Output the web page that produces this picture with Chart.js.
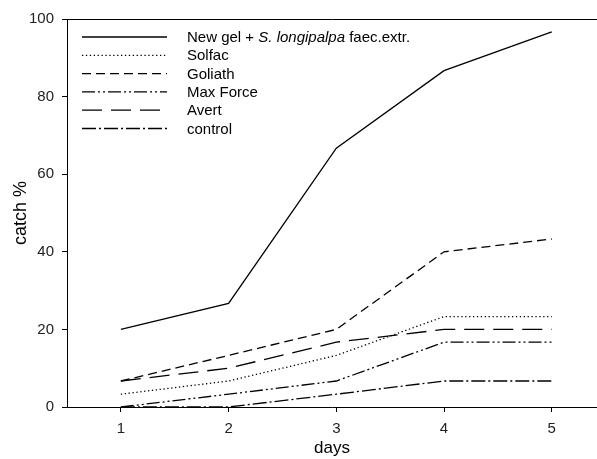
<!DOCTYPE html>
<html>
<head>
<meta charset="utf-8">
<script src="https://cdn.jsdelivr.net/npm/chart.js@4/dist/chart.umd.min.js"></script>
<style>
  html, body { margin: 0; padding: 0; background: #fff; }
  #wrap { width: 597px; height: 459px; position: relative; }
</style>
</head>
<body>
<div id="wrap"><canvas id="c" width="597" height="459"></canvas></div>
<script>
const days = [1, 2, 3, 4, 5];
const newGel = [20, 26.7, 66.7, 86.7, 96.7];
const solfac = [3.3, 6.7, 13.3, 23.3, 23.3];
const goliath = [6.7, 13.3, 20, 40, 43.3];
const maxForce = [0, 3.3, 6.7, 16.7, 16.7];
const avert = [6.7, 10, 16.7, 20, 20];
const control = [0, 0, 3.3, 6.7, 6.7];
const yTicks = [0, 20, 40, 60, 80, 100];
const seriesLabels = ["New gel + S. longipalpa faec.extr.", "Solfac", "Goliath", "Max Force", "Avert", "control"];
// rich legend segments for labels (italic parts)
const legendSegments = [
  [["New gel + ", false], ["S. longipalpa", true], [" faec.extr.", false]],
  [["Solfac", false]], [["Goliath", false]], [["Max Force", false]], [["Avert", false]], [["control", false]]
];
const dashes = [[], [1.3, 2.6], [9, 5], [13, 3, 2, 3, 2, 3], [20, 9], [14, 3, 2, 3]];
const seriesValues = [newGel, solfac, goliath, maxForce, avert, control];

const FONT = "Arial, 'Liberation Sans', sans-serif";

const datasets = seriesValues.map((vals, i) => ({
  label: seriesLabels[i],
  data: days.map((d, j) => ({ x: d, y: vals[j] })),
  borderColor: '#000',
  borderWidth: 1.3,
  borderDash: dashes[i],
  pointRadius: 0,
  fill: false,
  tension: 0
}));

const legendPlugin = {
  id: 'customLegend',
  afterDraw(chart) {
    const ctx = chart.ctx;
    const x0 = 82, x1 = 167, tx = 187;
    const yStart = 37, dy = 18.3;
    ctx.save();
    chart.data.datasets.forEach((ds, i) => {
      const y = yStart + i * dy;
      ctx.beginPath();
      ctx.setLineDash(ds.borderDash || []);
      ctx.lineWidth = ds.borderWidth;
      ctx.strokeStyle = ds.borderColor;
      ctx.moveTo(x0, y);
      ctx.lineTo(x1, y);
      ctx.stroke();
      ctx.setLineDash([]);
      ctx.fillStyle = '#000';
      ctx.textBaseline = 'middle';
      ctx.textAlign = 'left';
      let x = tx;
      legendSegments[i].forEach(([txt, it]) => {
        ctx.font = (it ? 'italic ' : '') + '15px ' + FONT;
        ctx.fillText(txt, x, y + 1);
        x += ctx.measureText(txt).width;
      });
    });
    ctx.restore();
  }
};

new Chart(document.getElementById('c'), {
  type: 'line',
  data: { datasets },
  options: {
    responsive: false,
    animation: false,
    devicePixelRatio: 1,
    layout: { padding: { top: 19, right: 0, left: 0, bottom: 0 } },
    plugins: { legend: { display: false }, tooltip: { enabled: false } },
    scales: {
      x: {
        type: 'linear',
        min: 0.5,
        max: 5.42,
        afterBuildTicks(s) { s.ticks = days.map(v => ({ value: v })); },
        afterFit(s) { s.height = 52; },
        border: { display: true, color: '#000', width: 1 },
        grid: { drawOnChartArea: false, color: '#000', tickLength: 5, tickWidth: 1 },
        ticks: { color: '#222', font: { family: FONT, size: 15 }, padding: 8, maxRotation: 0 },
        title: { display: true, text: 'days', color: '#000', font: { family: FONT, size: 17 }, padding: { top: 0, bottom: 0 } }
      },
      xTop: {
        type: 'linear',
        position: 'top',
        min: 0.5,
        max: 5.42,
        afterFit(s) { s.height = 0; },
        border: { display: true, color: '#000', width: 1 },
        grid: { display: false },
        ticks: { display: false }
      },
      y: {
        type: 'linear',
        min: 0,
        max: 100,
        afterBuildTicks(s) { s.ticks = yTicks.map(v => ({ value: v })); },
        afterFit(s) { s.width = 67; },
        border: { display: true, color: '#000', width: 1 },
        grid: { drawOnChartArea: false, color: '#000', tickLength: 5, tickWidth: 1 },
        ticks: { color: '#222', font: { family: FONT, size: 15 }, padding: 8 },
        title: { display: true, text: 'catch %', color: '#000', font: { family: FONT, size: 18 }, padding: { top: 10, bottom: 0 } }
      }
    }
  },
  plugins: [legendPlugin]
});
</script>
</body>
</html>
